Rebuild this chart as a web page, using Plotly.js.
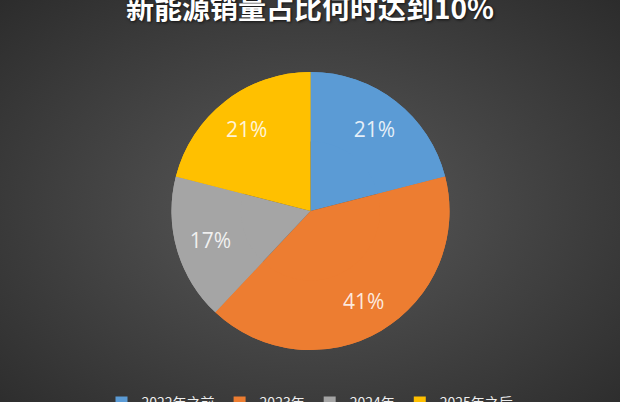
<!DOCTYPE html>
<html>
<head>
<meta charset="utf-8">
<script src="https://cdn.plot.ly/plotly-3.0.1.min.js"></script>
<style>
  html, body { margin: 0; padding: 0; }
  body {
    width: 620px; height: 402px; overflow: hidden;
    background: radial-gradient(ellipse at 50% 52%, #5a5a5a 0%, #454545 45%, #2c2c2c 100%);
  }
  #chart { width: 620px; height: 402px; }
</style>
</head>
<body>
<div id="chart"></div>
<script>
// survey: when will new-energy vehicles reach 10% of sales
const categories = ['2022年之前', '2023年', '2024年', '2025年之后'];
const shares = [21, 41, 17, 21];
const sliceColors = ['#5B9BD5', '#ED7D31', '#A5A5A5', '#FFC000'];

const W = 620, H = 402;
// pie placement in pixels: centre and radius
const cx = 310.5, cy = 211, r = 139;
const pieDomain = {
    x: [(cx - r) / W, (cx + r) / W],
    y: [(H - cy - r) / H, (H - cy + r) / H]
};

const traces = [
    // full pie underneath, no text
    {
        type: 'pie',
        labels: categories,
        values: shares,
        sort: false,
        direction: 'clockwise',
        rotation: 0,
        marker: { colors: sliceColors, line: { width: 0 } },
        textinfo: 'none',
        showlegend: false,
        hoverinfo: 'skip',
        domain: pieDomain
    },
    // same slices as a ring on top, so the percentages sit out towards the rim
    {
        type: 'pie',
        labels: categories,
        values: shares,
        hole: 0.5,
        sort: false,
        direction: 'clockwise',
        rotation: 0,
        marker: { colors: sliceColors, line: { width: 0 } },
        textinfo: 'percent',
        texttemplate: '%{percent:.0%}',
        textposition: 'inside',
        insidetextorientation: 'horizontal',
        textfont: { family: 'Open Sans, Noto Sans, sans-serif', size: 21, color: 'rgba(255,255,255,0.85)' },
        hoverinfo: 'skip',
        domain: pieDomain
    }
];

const layout = {
    width: W,
    height: H,
    margin: { l: 0, r: 0, t: 0, b: 0, autoexpand: false },
    paper_bgcolor: 'rgba(0,0,0,0)',
    plot_bgcolor: 'rgba(0,0,0,0)',
    title: {
        text: '<b>新能源销量占比何时达到10%</b>',
        x: 0.5,
        xanchor: 'center',
        y: 0.976,
        yanchor: 'middle',
        yref: 'container',
        font: { family: 'Noto Sans CJK SC, sans-serif', size: 28, color: '#ffffff', shadow: '1px 1px 3px rgba(0,0,0,0.7)' }
    },
    showlegend: true,
    legend: {
        orientation: 'h',
        x: 0.5,
        xanchor: 'center',
        y: -0.002,
        yanchor: 'middle',
        font: { family: 'Noto Sans CJK SC, sans-serif', size: 14, color: '#eeeeee' },
        bgcolor: 'rgba(0,0,0,0)'
    }
};

Plotly.newPlot('chart', traces, layout, { staticPlot: true, displayModeBar: false });
</script>
</body>
</html>
